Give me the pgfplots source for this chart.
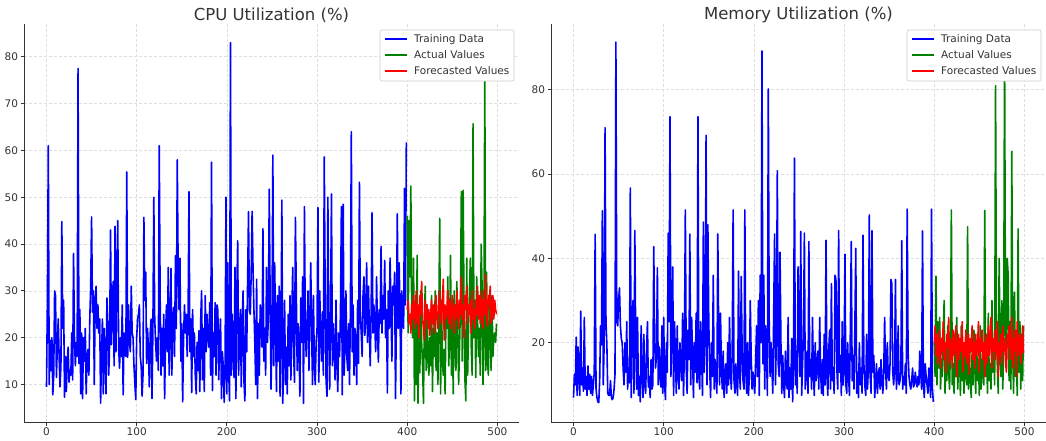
\documentclass[border=0pt]{standalone}
\usepackage{fontspec}
\setmainfont{DejaVu Sans}
\usepackage{pgfplots}
\usepackage{pgfplotstable}
\usetikzlibrary{calc}
\pgfplotsset{compat=1.18}
\definecolor{mblue}{RGB}{0,0,255}
\definecolor{mgreen}{RGB}{0,128,0}
\definecolor{mred}{RGB}{255,0,0}
\definecolor{txt}{RGB}{51,51,51}

% CPU training (0-399)
\pgfplotstableread[row sep=\\,header=false]{
9.5\\ 28\\ 61\\ 10\\ 19.5\\ 13\\ 20\\ 7.8\\ 12\\ 30\\ 29\\ 11.5\\ 18\\ 24\\ 16\\ 9.5\\ 14\\ 44.8\\ 22\\ 28\\
7.3\\ 16\\ 8.5\\ 15\\ 18\\ 10.5\\ 13\\ 12\\ 21\\ 11\\ 38\\ 20\\ 14\\ 19\\ 16\\ 77.5\\ 14.5\\ 26\\ 8\\ 21\\
7\\ 20\\ 15\\ 22\\ 8\\ 16\\ 17.5\\ 12\\ 24\\ 31\\ 45.8\\ 25.5\\ 30\\ 10\\ 28\\ 31\\ 22\\ 27\\ 21\\ 24\\
6\\ 16\\ 24\\ 8\\ 22\\ 16\\ 8\\ 28.5\\ 23\\ 12\\ 19\\ 43\\ 18.5\\ 28\\ 32\\ 14\\ 43.8\\ 17\\ 32\\ 45\\
18\\ 13.5\\ 20\\ 16\\ 27\\ 7.8\\ 21\\ 18\\ 16\\ 55.4\\ 15.8\\ 27\\ 19\\ 17\\ 31\\ 21\\ 20\\ 14\\ 10\\ 6.8\\
20\\ 24\\ 25\\ 27\\ 16\\ 14\\ 7.5\\ 12\\ 45.7\\ 28\\ 34\\ 14.5\\ 22\\ 18\\ 9.5\\ 21\\ 24\\ 7\\ 22\\ 50\\
24\\ 19\\ 15\\ 20\\ 13\\ 61\\ 29\\ 12\\ 22\\ 14\\ 25\\ 7\\ 20\\ 27\\ 17\\ 35\\ 12\\ 21\\ 34.8\\ 12\\
24\\ 26.5\\ 16\\ 37.5\\ 22\\ 58\\ 34.5\\ 26\\ 37\\ 15\\ 23\\ 6.3\\ 20\\ 27\\ 21\\ 25\\ 16\\ 24\\ 51.2\\ 17\\
24\\ 8.3\\ 26\\ 16\\ 21\\ 12\\ 8\\ 19\\ 13\\ 21.5\\ 8.5\\ 24\\ 30\\ 11\\ 22\\ 8.5\\ 29\\ 17\\ 25\\ 20\\
18\\ 27.5\\ 12\\ 57.5\\ 8.7\\ 21\\ 16\\ 27.5\\ 12\\ 27\\ 26\\ 11\\ 20\\ 24\\ 7\\ 17\\ 14\\ 6.2\\ 13\\ 50\\
8\\ 36\\ 13\\ 6.5\\ 83\\ 12\\ 25\\ 17\\ 11.5\\ 35\\ 7\\ 29\\ 40.7\\ 12\\ 20\\ 26\\ 9.5\\ 24\\ 30\\ 10.5\\
6.5\\ 26\\ 17\\ 32\\ 46.9\\ 26\\ 25\\ 34\\ 47\\ 35\\ 26\\ 19\\ 10\\ 32.5\\ 7\\ 23\\ 12\\ 27\\ 25\\ 18\\
43.3\\ 15\\ 22\\ 12\\ 35\\ 19\\ 24\\ 51.7\\ 28\\ 9\\ 21\\ 59\\ 14\\ 36\\ 22\\ 8.5\\ 29\\ 15\\ 31\\ 7.5\\
19\\ 49.4\\ 6\\ 16\\ 28\\ 10\\ 18\\ 8\\ 25\\ 14\\ 29\\ 11\\ 24\\ 35\\ 17\\ 10.5\\ 45.7\\ 30\\ 13\\ 23\\
18\\ 7.5\\ 28.5\\ 19\\ 33\\ 6\\ 48\\ 22\\ 16\\ 22.5\\ 30\\ 13\\ 24\\ 36\\ 21\\ 10\\ 29\\ 14\\ 10\\ 19\\
22\\ 47.8\\ 10.5\\ 30\\ 20\\ 15\\ 25.5\\ 12\\ 58.6\\ 30\\ 11\\ 7.5\\ 50\\ 21\\ 9\\ 26\\ 50.7\\ 14\\ 23\\ 18\\
11\\ 28\\ 15\\ 8.5\\ 21\\ 16\\ 26\\ 48\\ 7.8\\ 48.5\\ 12\\ 19\\ 30\\ 16\\ 13\\ 23\\ 10\\ 26\\ 64\\ 17\\
27\\ 12\\ 22\\ 18\\ 10\\ 28\\ 14.5\\ 53.2\\ 25\\ 21\\ 16\\ 29\\ 33\\ 20.5\\ 24\\ 36\\ 19\\ 31\\ 22\\ 14\\
26\\ 46.7\\ 21\\ 27\\ 23\\ 17\\ 33\\ 22\\ 14.8\\ 26\\ 23\\ 39.5\\ 21\\ 29\\ 24\\ 36.5\\ 20\\ 26\\ 8.2\\ 30\\
22\\ 37\\ 26\\ 15\\ 31\\ 27\\ 34\\ 7\\ 24\\ 46.5\\ 22\\ 36\\ 26\\ 8\\ 30\\ 24\\ 22\\ 51.9\\ 27\\ 61.7\\
}\cputrain

% CPU actual (400-499)
\pgfplotstableread[row sep=\\,header=false]{
46\\ 21\\ 45\\ 33\\ 52.4\\ 24\\ 20\\ 37\\ 6.5\\ 25\\ 10\\ 37.6\\ 6\\ 26\\ 12.5\\ 30\\ 19\\ 14\\ 6\\ 24\\
31\\ 13\\ 27\\ 16\\ 12\\ 20\\ 14\\ 29\\ 8.5\\ 22\\ 16\\ 30\\ 13\\ 21\\ 10\\ 24\\ 45.5\\ 8\\ 28\\ 15\\
12\\ 17.5\\ 8\\ 26\\ 22\\ 33\\ 14\\ 20\\ 37.6\\ 12\\ 25\\ 8\\ 30\\ 19\\ 13\\ 32\\ 22\\ 10\\ 18\\ 27\\
51.2\\ 15\\ 51.5\\ 26\\ 11\\ 6.5\\ 37\\ 12\\ 22\\ 30\\ 37\\ 18\\ 12\\ 65.7\\ 20\\ 28\\ 11.5\\ 33\\ 24\\ 16\\
22\\ 12\\ 40\\ 31\\ 10\\ 20\\ 76.4\\ 13\\ 34\\ 15\\ 12\\ 28\\ 21\\ 13\\ 29\\ 16\\ 20\\ 21\\ 19\\ 23\\
}\cpuactual

% CPU forecast (400-499)
\pgfplotstableread[row sep=\\,header=false]{
26\\ 28\\ 23\\ 25\\ 21\\ 27\\ 24\\ 29\\ 22\\ 26\\ 30\\ 23\\ 27\\ 20\\ 29\\ 25\\ 32\\ 24\\ 22\\ 19.5\\
28\\ 24\\ 27\\ 22\\ 26\\ 20.5\\ 25\\ 28\\ 23\\ 27\\ 21\\ 26\\ 29\\ 24\\ 22\\ 27\\ 30\\ 25\\ 23\\ 28\\
32.5\\ 19.5\\ 27\\ 24\\ 26\\ 30\\ 23\\ 28\\ 22\\ 26\\ 29\\ 25\\ 21\\ 27\\ 24\\ 30\\ 26\\ 22\\ 28\\ 25\\
33\\ 24\\ 27\\ 20\\ 29\\ 26\\ 31\\ 23\\ 27\\ 25\\ 28\\ 21\\ 30\\ 24\\ 26\\ 22\\ 28\\ 25\\ 31\\ 24\\
29\\ 23\\ 27\\ 30\\ 22\\ 28\\ 25\\ 33.5\\ 24\\ 22.5\\ 29\\ 27\\ 31\\ 23\\ 26\\ 29\\ 24\\ 28\\ 26\\ 25\\
}\cpufc

% Memory training (0-399)
\pgfplotstableread[row sep=\\,header=false]{
7\\ 12.5\\ 10\\ 21.3\\ 7.5\\ 19\\ 12\\ 7.5\\ 27.5\\ 10\\ 14\\ 8.5\\ 26\\ 9\\ 12\\ 7.5\\ 14.5\\ 9\\ 12.5\\ 8\\
12\\ 7.5\\ 10\\ 13\\ 45.7\\ 9\\ 7\\ 6\\ 5.8\\ 11\\ 24\\ 19.5\\ 51.3\\ 10\\ 20\\ 71\\ 25\\ 19.5\\ 8\\ 7.5\\
7.5\\ 11\\ 7\\ 6.5\\ 7\\ 9\\ 12.5\\ 91.3\\ 25\\ 24\\ 30\\ 33\\ 24\\ 21\\ 20\\ 14\\ 10\\ 20\\ 13\\ 25\\
9\\ 14\\ 10.5\\ 56.7\\ 7\\ 25\\ 30\\ 8\\ 46.6\\ 20\\ 9\\ 26\\ 7.5\\ 12\\ 6\\ 24\\ 12\\ 7\\ 22\\ 10\\
8\\ 18\\ 25\\ 9.5\\ 12\\ 7\\ 16\\ 9\\ 10\\ 42.8\\ 20\\ 14\\ 17\\ 37.8\\ 10\\ 19\\ 12\\ 9.5\\ 24\\ 8\\
26\\ 10\\ 6.5\\ 20\\ 13\\ 46\\ 25\\ 73.6\\ 12\\ 21\\ 38\\ 7.5\\ 25\\ 17\\ 8\\ 24\\ 13\\ 9\\ 20\\ 15\\
11\\ 27\\ 7.5\\ 19\\ 51.5\\ 14\\ 8\\ 23\\ 16\\ 45.8\\ 10\\ 26\\ 17\\ 7\\ 20\\ 13\\ 27\\ 10.5\\ 73.6\\ 12\\
9\\ 25\\ 18\\ 7.5\\ 48.6\\ 13\\ 21\\ 69.2\\ 10\\ 48\\ 25\\ 14\\ 7\\ 20\\ 12\\ 36\\ 9\\ 16\\ 12\\ 8\\
45.8\\ 22\\ 10\\ 27\\ 14\\ 9\\ 18\\ 7\\ 12\\ 15\\ 8\\ 20\\ 10\\ 26\\ 13\\ 9\\ 18\\ 51.5\\ 11\\ 8\\
15\\ 10\\ 7.5\\ 37\\ 13\\ 9\\ 35.7\\ 18\\ 11\\ 9\\ 51.5\\ 14\\ 8\\ 20\\ 7.5\\ 12\\ 30\\ 17\\ 9\\ 13\\
10\\ 8\\ 16\\ 24\\ 12\\ 30\\ 7.5\\ 36\\ 20\\ 89.2\\ 15\\ 36\\ 9\\ 24\\ 18\\ 7.5\\ 80.2\\ 25\\ 12\\ 20\\
14\\ 8\\ 27.5\\ 45.8\\ 10\\ 22\\ 60.8\\ 15\\ 12\\ 41.5\\ 20\\ 8\\ 17\\ 10\\ 7\\ 18\\ 11\\ 9\\ 26\\ 7\\
14\\ 9\\ 21\\ 6\\ 16\\ 63.8\\ 10\\ 18\\ 8\\ 38\\ 25\\ 12\\ 46.4\\ 7.5\\ 15\\ 22\\ 46\\ 9\\ 13\\ 18\\
8\\ 44\\ 12\\ 16\\ 9\\ 26\\ 13\\ 7.5\\ 20\\ 11\\ 14.5\\ 18\\ 9\\ 26\\ 13\\ 8\\ 16\\ 7.5\\ 22\\ 10\\
44.3\\ 12\\ 7.5\\ 18\\ 23\\ 9\\ 34\\ 11\\ 14\\ 8\\ 36\\ 35\\ 14\\ 9\\ 46.6\\ 13\\ 17\\ 7.5\\ 25\\ 10\\
14\\ 41\\ 10\\ 8\\ 20\\ 12\\ 7.5\\ 23\\ 44\\ 11\\ 17\\ 9\\ 24\\ 42.4\\ 8\\ 13\\ 7\\ 20\\ 10\\ 14\\
8\\ 45.5\\ 15\\ 10\\ 7.5\\ 22\\ 9\\ 14\\ 50.3\\ 12\\ 8\\ 46.6\\ 13\\ 17\\ 7\\ 11\\ 15\\ 8\\ 12\\ 14\\
9\\ 16\\ 11\\ 8\\ 13\\ 26\\ 14\\ 9\\ 20\\ 12\\ 11\\ 15\\ 35\\ 34\\ 13\\ 10\\ 14\\ 35\\ 9\\ 12\\
24\\ 10\\ 11\\ 13\\ 44.2\\ 9\\ 12\\ 10\\ 15\\ 8\\ 51.7\\ 18\\ 12\\ 10\\ 9\\ 11\\ 14\\ 9.5\\ 10\\ 13\\
11\\ 9.5\\ 12\\ 10\\ 18\\ 13\\ 9\\ 46.5\\ 10\\ 7\\ 15\\ 12\\ 10\\ 8\\ 14\\ 11\\ 7\\ 51.7\\ 9\\ 6\\
}\memtrain

% Memory actual (400-499)
\pgfplotstableread[row sep=\\,header=false]{
20\\ 12\\ 35.8\\ 10\\ 25\\ 14\\ 26\\ 9\\ 16\\ 12\\ 22\\ 30\\ 8\\ 18\\ 11\\ 24\\ 13\\ 9\\ 20\\ 51.5\\
10\\ 15\\ 8\\ 22\\ 12\\ 26\\ 9\\ 14\\ 19\\ 7.5\\ 24\\ 11\\ 16\\ 8\\ 20\\ 13\\ 10\\ 47.5\\ 9\\ 15\\
12\\ 7\\ 18\\ 10\\ 23\\ 14\\ 8\\ 20\\ 11\\ 16\\ 7.5\\ 24\\ 9\\ 13\\ 18\\ 10\\ 51.4\\ 12\\ 22\\ 8\\
27\\ 11\\ 15\\ 9\\ 30\\ 13\\ 20\\ 10\\ 81\\ 24\\ 14\\ 8\\ 40\\ 18\\ 12\\ 30\\ 9\\ 20\\ 90\\ 25\\
14\\ 40\\ 36\\ 11\\ 25\\ 9\\ 65.4\\ 18\\ 8\\ 32\\ 12\\ 20\\ 7.5\\ 47\\ 13\\ 25\\ 9\\ 22\\ 11\\ 24\\
}\memactual

% Memory forecast (400-499)
\pgfplotstableread[row sep=\\,header=false]{
20\\ 24\\ 17\\ 22\\ 15\\ 19\\ 23\\ 14\\ 21\\ 18\\ 25\\ 16\\ 20\\ 13\\ 22\\ 19\\ 26\\ 15\\ 18\\ 21\\
14\\ 23\\ 17\\ 20\\ 24\\ 12\\ 19\\ 22\\ 16\\ 21\\ 18\\ 25\\ 13\\ 20\\ 17\\ 23\\ 15\\ 19\\ 22\\ 12.5\\
21\\ 18\\ 24\\ 16\\ 20\\ 14\\ 22\\ 17\\ 19\\ 25\\ 13\\ 21\\ 18\\ 23\\ 16\\ 20\\ 12\\ 22\\ 19\\ 15\\
24\\ 17\\ 20\\ 26\\ 14\\ 21\\ 18\\ 23\\ 16\\ 19\\ 25\\ 12\\ 20\\ 17\\ 22\\ 15\\ 24\\ 18\\ 21\\ 16\\
13\\ 22\\ 19\\ 24\\ 16\\ 20\\ 26\\ 14\\ 21\\ 18\\ 23\\ 12\\ 25\\ 17\\ 20\\ 22\\ 15\\ 19\\ 24\\ 17.5\\
}\memfc

\newcommand{\legbox}{%
  \coordinate (NE) at ($(rel axis cs:1,1)+(-5pt,-6pt)$);
  \draw[draw=black!20, fill=white, rounded corners=2pt, line width=0.6pt]
    ($(NE)+(-134pt,-51pt)$) rectangle (NE);
  \draw[draw=mblue, line width=1.8pt] ($(NE)+(-129pt,-9pt)$) -- ++(22pt,0pt);
  \draw[draw=mgreen, line width=1.8pt] ($(NE)+(-129pt,-25pt)$) -- ++(22pt,0pt);
  \draw[draw=mred, line width=1.8pt] ($(NE)+(-129pt,-41pt)$) -- ++(22pt,0pt);
  \node[anchor=base west, inner sep=0pt, font=\fontsize{10.5}{12.5}\selectfont]
    at ($(NE)+(-100pt,-12.8pt)$) {\textcolor{txt}{Training Data}};
  \node[anchor=base west, inner sep=0pt, font=\fontsize{10.5}{12.5}\selectfont]
    at ($(NE)+(-100pt,-28.8pt)$) {\textcolor{txt}{Actual Values}};
  \node[anchor=base west, inner sep=0pt, font=\fontsize{10.5}{12.5}\selectfont]
    at ($(NE)+(-100pt,-44.8pt)$) {\textcolor{txt}{Forecasted Values}};
}

\pgfplotsset{
  panel/.style={
    scale only axis, width=495pt, height=398pt,
    anchor=south west,
    xmin=-24.95, xmax=523.95,
    axis lines*=left,
    axis line style={txt, line width=1pt},
    xtick={0,100,200,300,400,500},
    tick align=outside,
    major tick length=3.5pt,
    tick style={txt, line width=0.8pt},
    grid=major,
    major grid style={dash pattern=on 3pt off 2pt, black!13, line width=0.6pt},
    ticklabel style={font=\fontsize{10.5}{12}\selectfont, text=txt},
    xticklabel style={yshift=1pt},
    yticklabel style={xshift=1pt},
    /pgf/number format/assume math mode=true,
    title style={font=\fontsize{16.5}{19}\selectfont, text=txt, inner sep=0pt, yshift=-5pt},
    every axis plot/.append style={line width=1.6pt, line join=round},
  }
}

\begin{document}
\begin{tikzpicture}
\path[use as bounding box] (0pt,0pt) rectangle (1046pt,440pt);

\begin{axis}[panel, at={(24pt,18pt)},
  ymin=2, ymax=87, ytick={10,20,30,40,50,60,70,80},
  title={CPU Utilization (\%)}]
\addplot[draw=mblue] table[x expr=\coordindex, y index=0] {\cputrain};
\addplot[draw=mgreen] table[x expr=\coordindex+400, y index=0] {\cpuactual};
\addplot[draw=mred] table[x expr=\coordindex+400, y index=0] {\cpufc};
\legbox
\end{axis}

\begin{axis}[panel, at={(551pt,18pt)},
  ymin=1.2, ymax=95.6, ytick={20,40,60,80},
  title={Memory Utilization (\%)}]
\addplot[draw=mblue] table[x expr=\coordindex, y index=0] {\memtrain};
\addplot[draw=mgreen] table[x expr=\coordindex+400, y index=0] {\memactual};
\addplot[draw=mred] table[x expr=\coordindex+400, y index=0] {\memfc};
\legbox
\end{axis}
\end{tikzpicture}
\end{document}
